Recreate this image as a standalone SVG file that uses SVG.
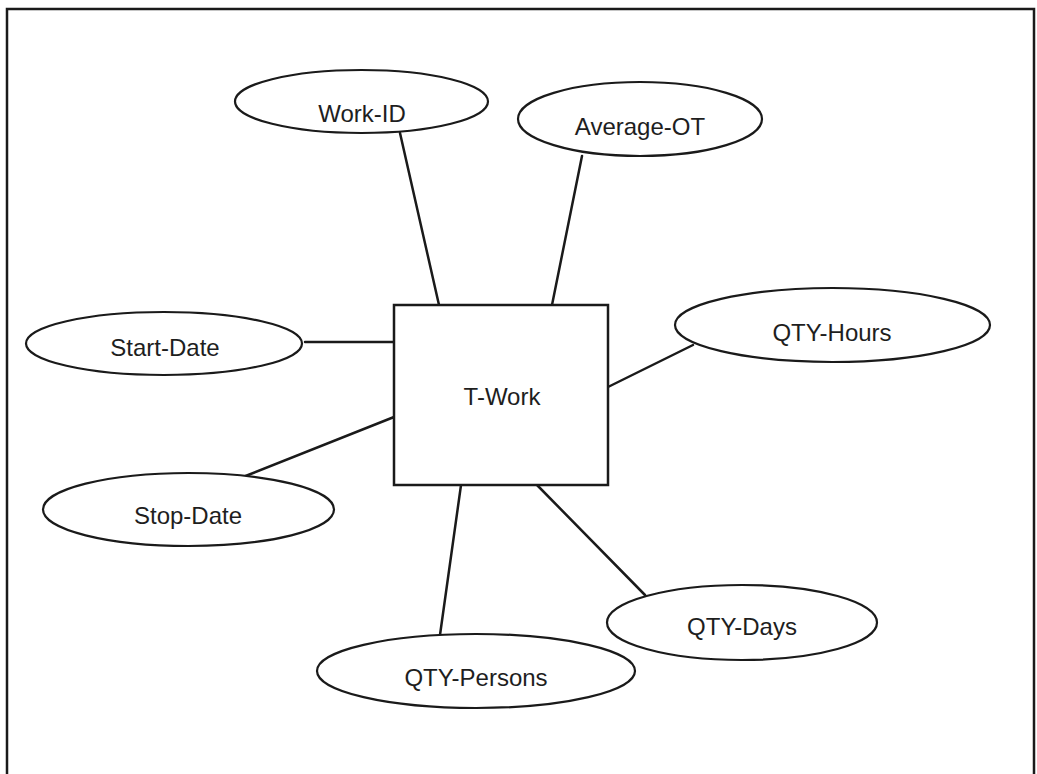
<svg xmlns="http://www.w3.org/2000/svg" width="1037" height="774" viewBox="0 0 1037 774">
<style>
.frame{fill:none;stroke:#1a1a1a;stroke-width:2.5}
.ent{fill:#fff;stroke:#1a1a1a;stroke-width:2.5}
.attr{fill:#fff;stroke:#1a1a1a;stroke-width:2.2}
.conn line{stroke:#1a1a1a;stroke-width:2.5;stroke-linecap:round}
text{font-family:"Liberation Sans",Arial,sans-serif;font-size:24px;fill:#1e1e1e;text-anchor:middle}
</style>
<rect width="1037" height="774" fill="#fff"/>
<path class="frame" d="M7,776 V9 H1034 V776"/>
<g id="connectors" class="conn">
<line x1="400" y1="133" x2="439" y2="305"/>
<line x1="582" y1="156" x2="552" y2="305"/>
<line x1="305" y1="342" x2="394" y2="342"/>
<line x1="394" y1="417" x2="243" y2="477"/>
<line x1="608" y1="387" x2="693" y2="345"/>
<line x1="537" y1="485" x2="645" y2="595"/>
<line x1="462" y1="478" x2="440" y2="635"/>
</g>
<g id="t-work">
<rect class="ent" x="394" y="305" width="214" height="180"/>
<text x="502" y="405">T-Work</text>
</g>
<g id="work-id">
<ellipse class="attr" cx="361.5" cy="101.5" rx="126.5" ry="31.5"/>
<text x="362" y="122">Work-ID</text>
</g>
<g id="average-ot">
<ellipse class="attr" cx="640" cy="119" rx="122" ry="37"/>
<text x="640" y="135">Average-OT</text>
</g>
<g id="start-date">
<ellipse class="attr" cx="164" cy="343.5" rx="138" ry="31.5"/>
<text x="165" y="356">Start-Date</text>
</g>
<g id="qty-hours">
<ellipse class="attr" cx="832.5" cy="325" rx="157.5" ry="37"/>
<text x="832" y="341">QTY-Hours</text>
</g>
<g id="stop-date">
<ellipse class="attr" cx="188.5" cy="509.5" rx="145.5" ry="36.5"/>
<text x="188" y="524">Stop-Date</text>
</g>
<g id="qty-days">
<ellipse class="attr" cx="742" cy="622.5" rx="135" ry="37.5"/>
<text x="742" y="635">QTY-Days</text>
</g>
<g id="qty-persons">
<ellipse class="attr" cx="476" cy="671" rx="159" ry="37"/>
<text x="476" y="686">QTY-Persons</text>
</g>
</svg>
